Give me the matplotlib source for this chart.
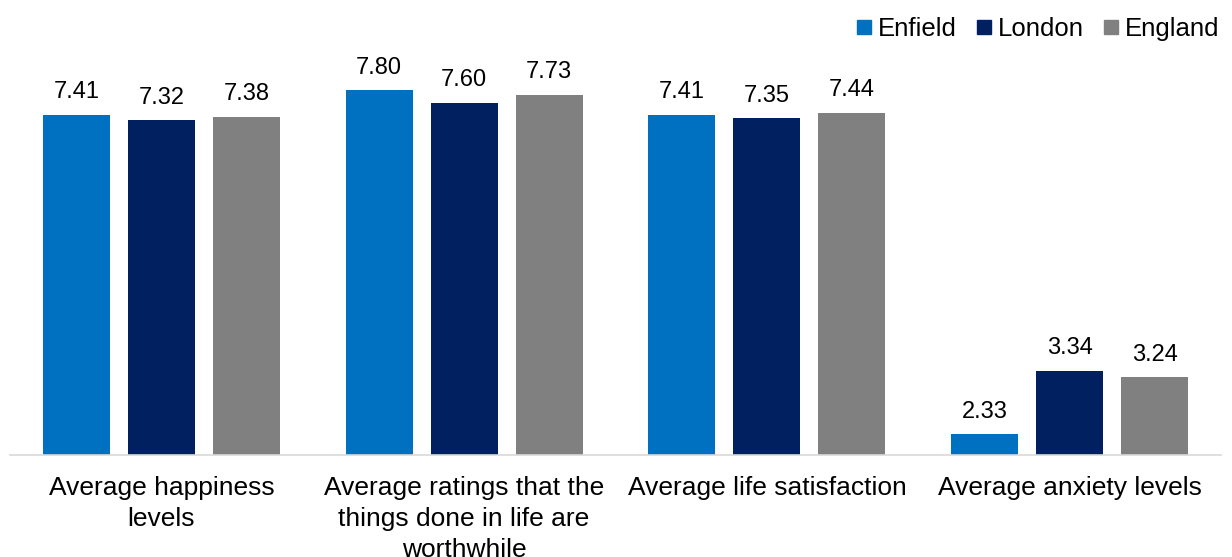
import matplotlib
matplotlib.use("Agg")
import matplotlib.pyplot as plt
from matplotlib.lines import Line2D
import numpy as np

plt.rcParams['font.family'] = ['Liberation Sans', 'DejaVu Sans']

categories = ["Average happiness\nlevels",
              "Average ratings that the\nthings done in life are\nworthwhile",
              "Average life satisfaction",
              "Average anxiety levels"]
series_names = ["Enfield", "London", "England"]
enfield = [7.41, 7.80, 7.41, 2.33]
london = [7.32, 7.60, 7.35, 3.34]
england = [7.38, 7.73, 7.44, 3.24]
colors = ["#0070C0", "#002060", "#808080"]

W, H = 1232, 557
fig = plt.figure(figsize=(W / 100, H / 100), dpi=100)
ax = fig.add_axes([10 / W, (H - 455) / H, 1211 / W, 440.3 / H])

x = np.arange(len(categories))
step = 0.281
width = 0.221
for i, (vals, col) in enumerate(zip([enfield, london, england], colors)):
    pos = x + (i - 1) * step
    bars = ax.bar(pos, vals, width=width, color=col, zorder=2)
    for p, v in zip(pos, vals):
        ax.annotate(f"{v:.2f}", (p, v), xytext=(0, 11.8), textcoords="offset points",
                    ha="center", va="baseline", fontsize=17, color="black")

ax.set_xlim(-0.5, 3.5)
ax.set_ylim(2, 9)
ax.set_yticks([])
for s in ["left", "right", "top"]:
    ax.spines[s].set_visible(False)
ax.spines["bottom"].set_color("#D9D9D9")
ax.spines["bottom"].set_linewidth(1.2)
ax.set_xticks(x)
ax.set_xticklabels(categories, fontsize=19, linespacing=1.36)
ax.tick_params(axis="x", length=0, pad=15)

handles = [Line2D([], [], marker="s", linestyle="none", markersize=10,
                  markerfacecolor=c, markeredgecolor=c) for c in colors]
fig.legend(handles, series_names, loc="upper right", bbox_to_anchor=(1235 / W, 0.997),
           ncol=3, frameon=False, fontsize=18.5, handlelength=0.6, handletextpad=0.25,
           columnspacing=0.75, borderaxespad=0.2)

fig.savefig("out.png", dpi=100)
